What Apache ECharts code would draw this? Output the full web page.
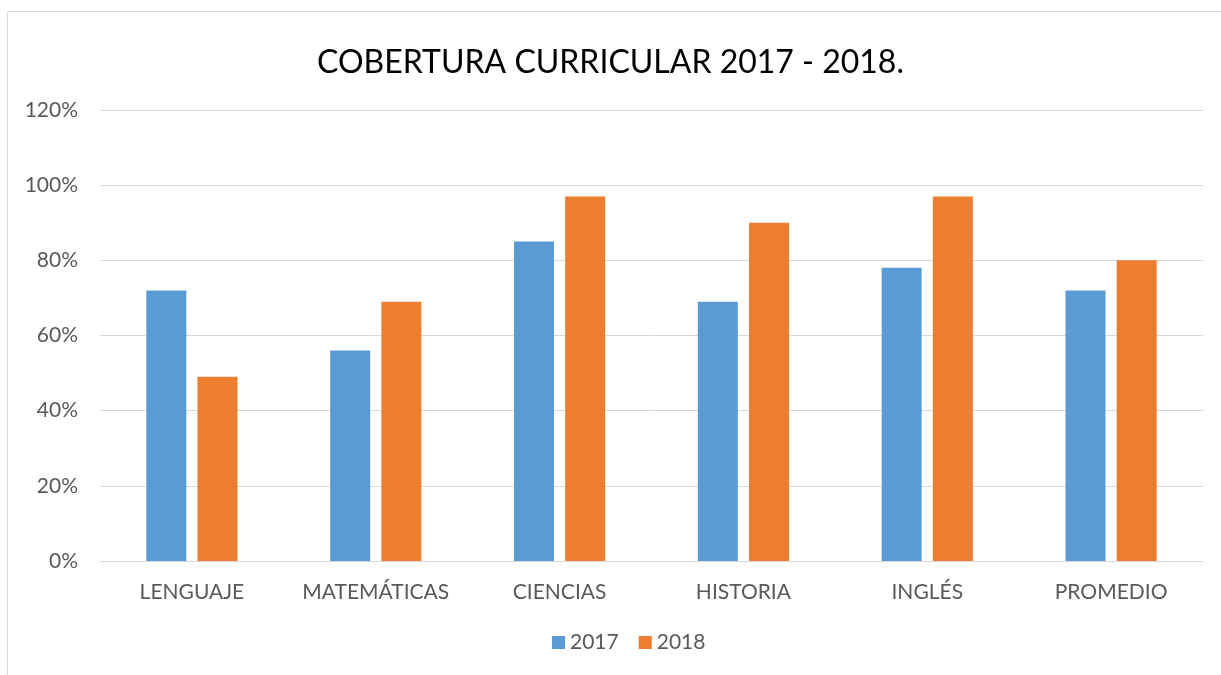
<!DOCTYPE html>
<html>
<head>
<meta charset="utf-8">
<script src="https://cdn.jsdelivr.net/npm/echarts@6/dist/echarts.min.js"></script>
<style>
  html, body { margin: 0; padding: 0; background: #fff; }
  #chart { width: 1221px; height: 675px; }
</style>
</head>
<body>
<div id="chart"></div>
<script>
const categories = ['LENGUAJE', 'MATEMÁTICAS', 'CIENCIAS', 'HISTORIA', 'INGLÉS', 'PROMEDIO']
const values2017 = [72, 56, 85, 69, 78, 72]
const values2018 = [49, 69, 97, 90, 97, 80]
const seriesNames = ['2017', '2018']

const font = 'Lato, "Open Sans", sans-serif'
const textColor = '#595959'

const chart = echarts.init(document.getElementById('chart'))

chart.setOption({
  animation: false,
  textStyle: { fontFamily: font },
  title: {
    text: 'COBERTURA CURRICULAR 2017 - 2018.',
    left: 'center',
    top: 42,
    textStyle: { fontSize: 32, fontWeight: 'normal', color: '#000', fontFamily: font }
  },
  graphic: [{
    type: 'rect',
    shape: { x: 7.5, y: 11.5, width: 1230, height: 700 },
    style: { fill: 'none', stroke: '#d9d9d9', lineWidth: 1 },
    silent: true
  }],
  legend: {
    data: seriesNames,
    bottom: 17,
    left: 547,
    itemWidth: 13,
    itemHeight: 13,
    itemGap: 20,
    icon: 'rect',
    textStyle: { fontSize: 21, color: textColor, fontFamily: font }
  },
  grid: {
    left: 100,
    right: 18,
    top: 110,
    bottom: 114,
    containLabel: false
  },
  xAxis: {
    type: 'category',
    data: categories,
    axisLine: { show: true, lineStyle: { color: '#d9d9d9', width: 1 } },
    axisTick: { show: false },
    axisLabel: { interval: 0, fontSize: 21, color: textColor, margin: 21, fontFamily: font }
  },
  yAxis: {
    type: 'value',
    min: 0,
    max: 120,
    interval: 20,
    axisLine: { show: false },
    axisTick: { show: false },
    splitLine: { lineStyle: { color: '#d9d9d9', width: 1 } },
    axisLabel: {
      fontSize: 21,
      color: textColor,
      margin: 22,
      fontFamily: font,
      formatter: '{value}%'
    }
  },
  series: [
    {
      name: seriesNames[0],
      type: 'bar',
      data: values2017,
      barWidth: 40,
      barGap: '28%',
      itemStyle: { color: '#5b9bd5' }
    },
    {
      name: seriesNames[1],
      type: 'bar',
      data: values2018,
      barWidth: 40,
      itemStyle: { color: '#ed7d31' }
    }
  ]
})
</script>
</body>
</html>
